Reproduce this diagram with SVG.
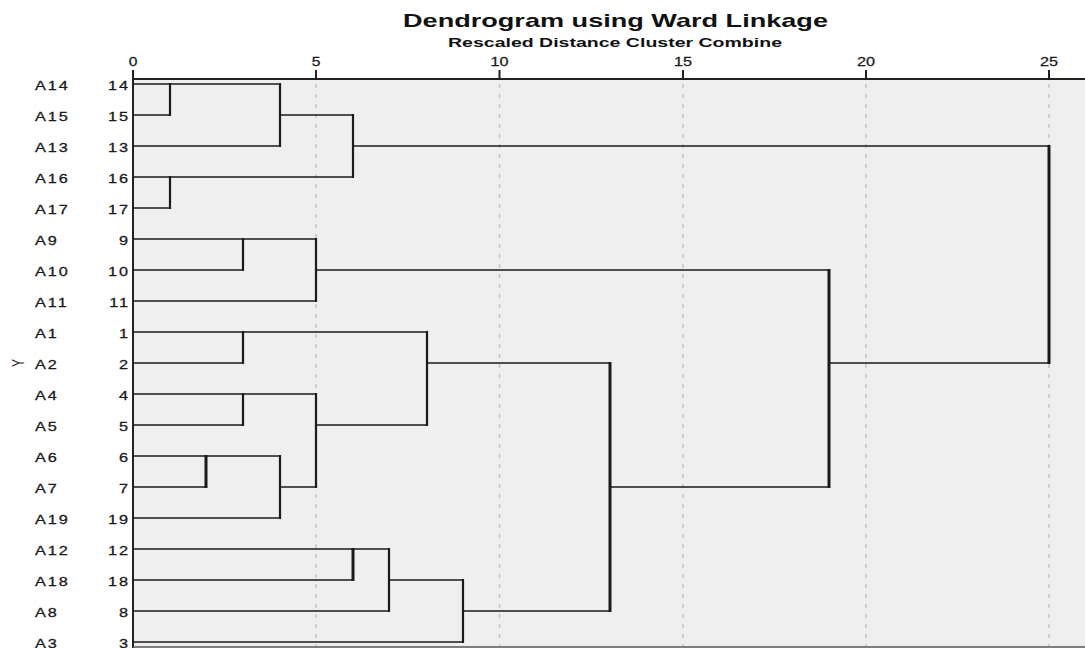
<svg xmlns="http://www.w3.org/2000/svg" width="1085" height="648" viewBox="0 0 1085 648">
<style>
  .lbl { font-family: "Liberation Sans", Arial, sans-serif; font-size: 13px; fill: #1a1a1a; stroke: #1a1a1a; stroke-width: 0.3px; letter-spacing: 1.6px; }
  .num { font-family: "Liberation Sans", Arial, sans-serif; font-size: 13px; fill: #1a1a1a; stroke: #1a1a1a; stroke-width: 0.3px; letter-spacing: 1.6px; text-anchor: end; }
  .tick { font-family: "Liberation Sans", Arial, sans-serif; font-size: 12px; fill: #1a1a1a; stroke: #1a1a1a; stroke-width: 0.25px; text-anchor: middle; }
  .grid { stroke: #c4c4c4; stroke-width: 1.5; stroke-dasharray: 4 6; fill: none; }
  .ln { stroke: #1a1a1a; stroke-width: 1.7; fill: none; stroke-linecap: square; }
  .vt { stroke: #1a1a1a; stroke-width: 2.2; fill: none; }
  .vtk { stroke: #1a1a1a; stroke-width: 3; fill: none; }
</style>
<rect x="0" y="0" width="1085" height="648" fill="#ffffff"/>
<rect x="133" y="79" width="952" height="568" fill="#efefef"/>
<g id="title">
  <text x="403" y="27" font-family="Liberation Sans, Arial, sans-serif" font-size="19" font-weight="bold" fill="#111" textLength="425" lengthAdjust="spacingAndGlyphs">Dendrogram using Ward Linkage</text>
  <text x="448" y="47" font-family="Liberation Sans, Arial, sans-serif" font-size="12.5" font-weight="bold" fill="#111" textLength="334" lengthAdjust="spacingAndGlyphs">Rescaled Distance Cluster Combine</text>
</g>
<g id="grid">
  <line class="grid" x1="316" y1="84" x2="316" y2="646"/>
  <line class="grid" x1="499.5" y1="84" x2="499.5" y2="646"/>
  <line class="grid" x1="683" y1="84" x2="683" y2="646"/>
  <line class="grid" x1="866" y1="84" x2="866" y2="646"/>
  <line class="grid" x1="1049" y1="84" x2="1049" y2="646"/>
</g>
<g id="axis">
  <line x1="133" y1="79" x2="1085" y2="79" stroke="#222" stroke-width="2"/>
  <line x1="133" y1="70" x2="133" y2="648" stroke="#222" stroke-width="2"/>
  <line x1="133" y1="647" x2="1085" y2="647" stroke="#555" stroke-width="1.5"/>
  <g stroke="#222" stroke-width="2">
    <line x1="316" y1="70" x2="316" y2="79"/>
    <line x1="499.5" y1="70" x2="499.5" y2="79"/>
    <line x1="683" y1="70" x2="683" y2="79"/>
    <line x1="866" y1="70" x2="866" y2="79"/>
    <line x1="1049" y1="70" x2="1049" y2="79"/>
  </g>
  <text class="tick" transform="translate(133,65.5) scale(1.3,1)">0</text>
  <text class="tick" transform="translate(316,65.5) scale(1.3,1)">5</text>
  <text class="tick" transform="translate(499.5,65.5) scale(1.35,1)">10</text>
  <text class="tick" transform="translate(683,65.5) scale(1.35,1)">15</text>
  <text class="tick" transform="translate(866,65.5) scale(1.35,1)">20</text>
  <text class="tick" transform="translate(1049,65.5) scale(1.35,1)">25</text>
  <text font-family="Liberation Sans, Arial, sans-serif" font-size="12" fill="#1a1a1a" text-anchor="middle" transform="translate(24,363) scale(1.4,1) rotate(-90)">Y</text>
</g>
<g id="leaf-labels">
  <g id="n14"><text class="lbl" transform="translate(35,89.5) scale(1.25,1)">A14</text><text class="num" transform="translate(130,89.5) scale(1.25,1)">14</text></g>
  <g id="n15"><text class="lbl" transform="translate(35,120.5) scale(1.25,1)">A15</text><text class="num" transform="translate(130,120.5) scale(1.25,1)">15</text></g>
  <g id="n13"><text class="lbl" transform="translate(35,151.5) scale(1.25,1)">A13</text><text class="num" transform="translate(130,151.5) scale(1.25,1)">13</text></g>
  <g id="n16"><text class="lbl" transform="translate(35,182.5) scale(1.25,1)">A16</text><text class="num" transform="translate(130,182.5) scale(1.25,1)">16</text></g>
  <g id="n17"><text class="lbl" transform="translate(35,213.5) scale(1.25,1)">A17</text><text class="num" transform="translate(130,213.5) scale(1.25,1)">17</text></g>
  <g id="n9"><text class="lbl" transform="translate(35,244.5) scale(1.25,1)">A9</text><text class="num" transform="translate(130,244.5) scale(1.25,1)">9</text></g>
  <g id="n10"><text class="lbl" transform="translate(35,275.5) scale(1.25,1)">A10</text><text class="num" transform="translate(130,275.5) scale(1.25,1)">10</text></g>
  <g id="n11"><text class="lbl" transform="translate(35,306.5) scale(1.25,1)">A11</text><text class="num" transform="translate(130,306.5) scale(1.25,1)">11</text></g>
  <g id="n1"><text class="lbl" transform="translate(35,337.5) scale(1.25,1)">A1</text><text class="num" transform="translate(130,337.5) scale(1.25,1)">1</text></g>
  <g id="n2"><text class="lbl" transform="translate(35,368.5) scale(1.25,1)">A2</text><text class="num" transform="translate(130,368.5) scale(1.25,1)">2</text></g>
  <g id="n4"><text class="lbl" transform="translate(35,399.5) scale(1.25,1)">A4</text><text class="num" transform="translate(130,399.5) scale(1.25,1)">4</text></g>
  <g id="n5"><text class="lbl" transform="translate(35,430.5) scale(1.25,1)">A5</text><text class="num" transform="translate(130,430.5) scale(1.25,1)">5</text></g>
  <g id="n6"><text class="lbl" transform="translate(35,461.5) scale(1.25,1)">A6</text><text class="num" transform="translate(130,461.5) scale(1.25,1)">6</text></g>
  <g id="n7"><text class="lbl" transform="translate(35,492.5) scale(1.25,1)">A7</text><text class="num" transform="translate(130,492.5) scale(1.25,1)">7</text></g>
  <g id="n19"><text class="lbl" transform="translate(35,523.5) scale(1.25,1)">A19</text><text class="num" transform="translate(130,523.5) scale(1.25,1)">19</text></g>
  <g id="n12"><text class="lbl" transform="translate(35,554.5) scale(1.25,1)">A12</text><text class="num" transform="translate(130,554.5) scale(1.25,1)">12</text></g>
  <g id="n18"><text class="lbl" transform="translate(35,585.5) scale(1.25,1)">A18</text><text class="num" transform="translate(130,585.5) scale(1.25,1)">18</text></g>
  <g id="n8"><text class="lbl" transform="translate(35,616.5) scale(1.25,1)">A8</text><text class="num" transform="translate(130,616.5) scale(1.25,1)">8</text></g>
  <g id="n3"><text class="lbl" transform="translate(35,647.5) scale(1.25,1)">A3</text><text class="num" transform="translate(130,647.5) scale(1.25,1)">3</text></g>
</g>
<g id="connectors">
  <g class="ln">
    <line x1="134" y1="84" x2="280" y2="84"/>
    <line x1="134" y1="115" x2="170" y2="115"/>
    <line x1="134" y1="146" x2="280" y2="146"/>
    <line x1="134" y1="177" x2="353" y2="177"/>
    <line x1="134" y1="208" x2="170" y2="208"/>
    <line x1="280" y1="115" x2="353" y2="115"/>
    <line x1="353" y1="146" x2="1049" y2="146"/>
    <line x1="134" y1="239" x2="316" y2="239"/>
    <line x1="134" y1="270" x2="243" y2="270"/>
    <line x1="134" y1="301" x2="316" y2="301"/>
    <line x1="316" y1="270" x2="829" y2="270"/>
    <line x1="134" y1="332" x2="427" y2="332"/>
    <line x1="134" y1="363" x2="243" y2="363"/>
    <line x1="134" y1="394" x2="316" y2="394"/>
    <line x1="134" y1="425" x2="243" y2="425"/>
    <line x1="134" y1="456" x2="280" y2="456"/>
    <line x1="134" y1="487" x2="206" y2="487"/>
    <line x1="134" y1="518" x2="280" y2="518"/>
    <line x1="280" y1="487" x2="316" y2="487"/>
    <line x1="316" y1="425" x2="427" y2="425"/>
    <line x1="427" y1="363" x2="610" y2="363"/>
    <line x1="134" y1="549" x2="389" y2="549"/>
    <line x1="134" y1="580" x2="353" y2="580"/>
    <line x1="389" y1="580" x2="463" y2="580"/>
    <line x1="134" y1="611" x2="389" y2="611"/>
    <line x1="134" y1="642" x2="463" y2="642"/>
    <line x1="463" y1="611" x2="610" y2="611"/>
    <line x1="610" y1="487" x2="829" y2="487"/>
    <line x1="829" y1="363" x2="1049" y2="363"/>
  </g>
  <g class="vt">
    <line x1="170" y1="83" x2="170" y2="116"/>
    <line x1="170" y1="176" x2="170" y2="209"/>
    <line x1="280" y1="83" x2="280" y2="147"/>
    <line x1="353" y1="114" x2="353" y2="178"/>
    <line x1="243" y1="238" x2="243" y2="271"/>
    <line x1="316" y1="238" x2="316" y2="302"/>
    <line x1="243" y1="331" x2="243" y2="364"/>
    <line x1="243" y1="393" x2="243" y2="426"/>
    <line x1="280" y1="455" x2="280" y2="519"/>
    <line x1="316" y1="393" x2="316" y2="488"/>
    <line x1="427" y1="331" x2="427" y2="426"/>
    <line x1="389" y1="548" x2="389" y2="612"/>
    <line x1="463" y1="579" x2="463" y2="643"/>
  </g>
  <g class="vtk">
    <line x1="206" y1="455" x2="206" y2="488"/>
    <line x1="353" y1="548" x2="353" y2="581"/>
    <line x1="610" y1="362" x2="610" y2="612"/>
    <line x1="829" y1="269" x2="829" y2="488"/>
    <line x1="1049" y1="145" x2="1049" y2="364"/>
  </g>
</g>
</svg>
